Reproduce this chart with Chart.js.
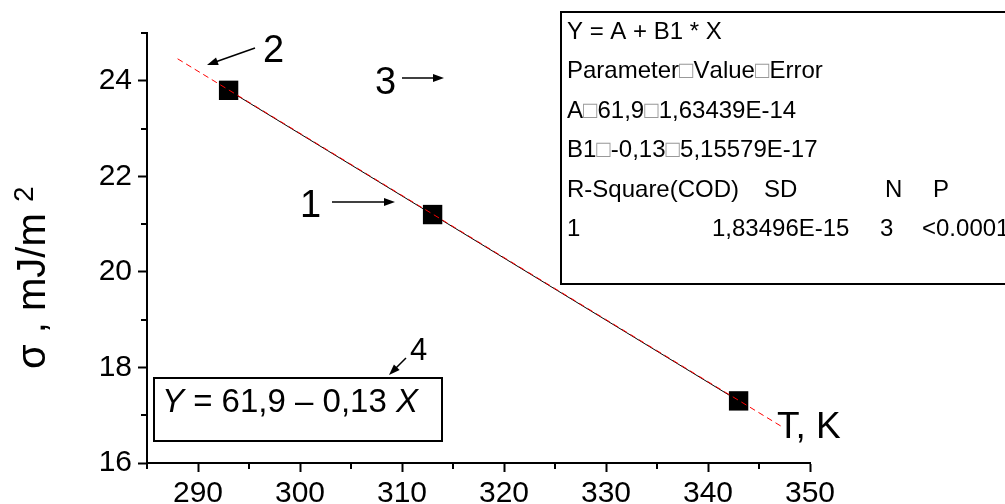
<!DOCTYPE html>
<html>
<head>
<meta charset="utf-8">
<script src="https://cdn.jsdelivr.net/npm/chart.js@4/dist/chart.umd.min.js"></script>
<style>
  body { margin: 0; background: #fff; }
  #wrap { width: 1005px; height: 504px; }
</style>
</head>
<body>
<div id="wrap"><canvas id="sigma_t" width="1005" height="504"></canvas></div>
<script>
const temps = [293, 313, 343];
const sigma = [23.8, 21.2, 17.3];
const fitTemps = [288, 347.4];
const fitSigma = [24.46, 16.74];

const xMajor = [290, 300, 310, 320, 330, 340, 350];
const xMinor = [285, 295, 305, 315, 325, 335, 345];
const yMajor = [16, 18, 20, 22, 24];
const yMinor = [17, 19, 21, 23, 25];

// Origin fit report text (tabs show up as boxes)
const reportLines = [
  'Y = A + B1 * X',
  'Parameter\u25A1Value\u25A1Error',
  'A\u25A161,9\u25A11,63439E-14',
  'B1\u25A1-0,13\u25A15,15579E-17'
];
const statHeads = ['R-Square(COD)', 'SD', 'N', 'P'];
const statVals = ['1', '1,83496E-15', '3', '<0.0001'];

const FONT = '"Liberation Sans", Arial, sans-serif';

function arrow(ctx, x1, y1, x2, y2) {
  const a = Math.atan2(y2 - y1, x2 - x1);
  const hl = 11, hw = 4;
  ctx.beginPath();
  ctx.moveTo(x1, y1);
  ctx.lineTo(x2 - Math.cos(a) * hl * 0.8, y2 - Math.sin(a) * hl * 0.8);
  ctx.stroke();
  ctx.beginPath();
  ctx.moveTo(x2, y2);
  ctx.lineTo(x2 - Math.cos(a) * hl - Math.sin(a) * hw, y2 - Math.sin(a) * hl + Math.cos(a) * hw);
  ctx.lineTo(x2 - Math.cos(a) * hl + Math.sin(a) * hw, y2 - Math.sin(a) * hl - Math.cos(a) * hw);
  ctx.closePath();
  ctx.fill();
}

// draw a line, painting the tab boxes grey
function reportText(ctx, s, x, y) {
  for (const ch of s) {
    ctx.fillStyle = ch === '\u25A1' ? '#999' : '#000';
    ctx.fillText(ch, x, y);
    x += ctx.measureText(ch).width;
  }
  ctx.fillStyle = '#000';
}

const extras = {
  id: 'extras',
  afterDraw(chart) {
    const ctx = chart.ctx;
    const xs = chart.scales.x, ys = chart.scales.y;
    const area = chart.chartArea;
    ctx.save();
    ctx.strokeStyle = '#000';
    ctx.fillStyle = '#000';

    // minor ticks
    ctx.lineWidth = 2;
    ctx.beginPath();
    xMinor.forEach(v => {
      const px = Math.round(xs.getPixelForValue(v));
      ctx.moveTo(px, area.bottom);
      ctx.lineTo(px, area.bottom + 6);
    });
    yMinor.forEach(v => {
      const py = Math.round(ys.getPixelForValue(v));
      ctx.moveTo(area.left, py);
      ctx.lineTo(area.left - 6, py);
    });
    ctx.stroke();

    // y axis title
    ctx.save();
    ctx.translate(45, 369);
    ctx.rotate(-Math.PI / 2);
    ctx.textAlign = 'left';
    ctx.textBaseline = 'alphabetic';
    ctx.font = '40px ' + FONT;
    const t = '\u03C3 , mJ/m ';
    ctx.fillText(t, 0, 0);
    const w = ctx.measureText(t).width;
    ctx.font = '28px ' + FONT;
    ctx.fillText('2', w, -12);
    ctx.restore();

    // x axis title
    ctx.font = '37px ' + FONT;
    ctx.fillText('T, K', 777, 438);

    // numbered labels and arrows
    ctx.font = '38px ' + FONT;
    ctx.fillText('2', 263, 62);
    ctx.fillText('3', 375, 94);
    ctx.fillText('1', 300, 217);
    ctx.font = '31px ' + FONT;
    ctx.fillText('4', 410, 360);
    ctx.lineWidth = 1.5;
    arrow(ctx, 255, 48, 207, 65);
    arrow(ctx, 402, 78, 444, 78);
    arrow(ctx, 332, 202, 395, 202);
    arrow(ctx, 406, 358, 389, 375);

    // fit report box
    ctx.lineWidth = 2;
    ctx.strokeRect(561, 12, 460, 272);
    ctx.font = '24px ' + FONT;
    const base = [39, 78, 118, 157];
    reportLines.forEach((s, i) => reportText(ctx, s, 567, base[i]));
    const colX = [567, 764, 885, 933];
    statHeads.forEach((s, i) => ctx.fillText(s, colX[i], 197));
    const valX = [567, 712, 880, 922];
    statVals.forEach((s, i) => ctx.fillText(s, valX[i], 236));

    // equation box
    ctx.strokeRect(154, 378, 288, 63);
    let x = 162;
    ctx.font = 'italic 33px ' + FONT;
    ctx.fillText('Y', x, 412);
    x += ctx.measureText('Y').width;
    ctx.font = '33px ' + FONT;
    const mid = ' = 61,9 \u2013 0,13 ';
    ctx.fillText(mid, x, 412);
    x += ctx.measureText(mid).width;
    ctx.font = 'italic 33px ' + FONT;
    ctx.fillText('X', x, 412);

    ctx.restore();
  }
};

const canvas = document.getElementById('sigma_t');

new Chart(canvas, {
  type: 'scatter',
  data: {
    datasets: [
      {
        label: 'fit',
        data: fitTemps.map((t, i) => ({ x: t, y: fitSigma[i] })),
        showLine: true,
        borderColor: 'rgba(255, 0, 0, 1)',
        borderWidth: 1,
        borderDash: [6, 4],
        pointRadius: 0,
        order: 0
      },
      {
        label: 'sigma',
        data: temps.map((t, i) => ({ x: t, y: sigma[i] })),
        showLine: true,
        borderColor: '#000',
        borderWidth: 1,
        backgroundColor: '#000',
        pointStyle: 'rect',
        pointRadius: 13.7,
        pointBorderWidth: 0,
        order: 1
      }
    ]
  },
  options: {
    responsive: false,
    animation: false,
    events: [],
    layout: { padding: { top: 33, right: 195, left: 0, bottom: 0 } },
    plugins: { legend: { display: false }, tooltip: { enabled: false } },
    scales: {
      x: {
        type: 'linear',
        min: 285,
        max: 350,
        afterBuildTicks: s => { s.ticks = xMajor.map(v => ({ value: v })); },
        afterFit: s => { s.height = 41; },
        ticks: { font: { size: 30, family: FONT }, color: '#000', padding: 4, maxRotation: 0, autoSkip: false },
        grid: { drawOnChartArea: false, tickLength: 9, tickWidth: 2, tickColor: '#000' },
        border: { color: '#000', width: 2 }
      },
      y: {
        min: 16,
        max: 25,
        afterBuildTicks: s => { s.ticks = yMajor.map(v => ({ value: v })); },
        afterFit: s => { s.width = 147; },
        ticks: { font: { size: 30, family: FONT }, color: '#000', padding: 6 },
        grid: { drawOnChartArea: false, tickLength: 9, tickWidth: 2, tickColor: '#000' },
        border: { color: '#000', width: 2 }
      }
    }
  },
  plugins: [extras]
});
</script>
</body>
</html>
